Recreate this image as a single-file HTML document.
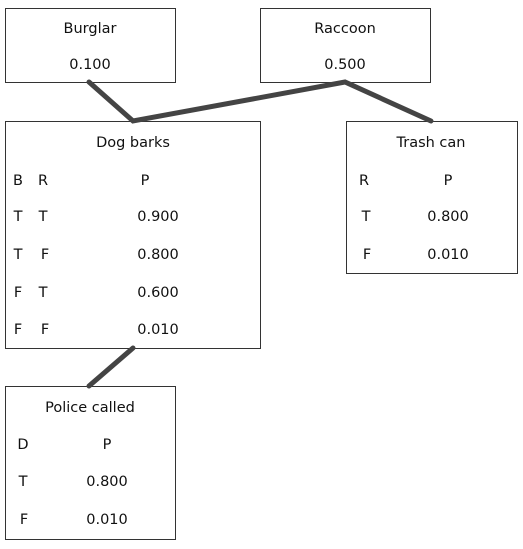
<!DOCTYPE html>
<html><head><style>
body{margin:0;background:#fff;}
svg text{font-family:"DejaVu Sans","Liberation Sans",sans-serif;font-size:14.5px;fill:#111;dominant-baseline:central;}
</style></head><body>
<svg width="523" height="544" xmlns="http://www.w3.org/2000/svg">
<g fill="#fff" stroke="#333" stroke-width="1">
<rect x="5.5" y="8.5" width="170" height="74"/>
<rect x="260.5" y="8.5" width="170" height="74"/>
<rect x="5.5" y="121.5" width="255" height="227"/>
<rect x="346.5" y="121.5" width="171" height="152"/>
<rect x="5.5" y="386.5" width="170" height="153"/>
</g>
<g stroke="#444" stroke-width="5" stroke-linecap="round" fill="none">
<polyline points="89,82 133,121 345,82 431,121"/>
<line x1="133" y1="348" x2="89" y2="386"/>
</g>
<g text-anchor="middle">
<text x="90" y="29">Burglar</text><text x="90" y="65">0.100</text>
<text x="345" y="29">Raccoon</text><text x="345" y="65">0.500</text>
<text x="133" y="143">Dog barks</text>
<text x="431" y="143">Trash can</text>
<text x="90" y="408">Police called</text>
<text x="18" y="181">B</text><text x="43" y="181">R</text><text x="145" y="181">P</text>
<text x="18" y="217">T</text><text x="43" y="217">T</text><text x="158" y="217">0.900</text>
<text x="18" y="255">T</text><text x="45" y="255">F</text><text x="158" y="255">0.800</text>
<text x="18" y="293">F</text><text x="43" y="293">T</text><text x="158" y="293">0.600</text>
<text x="18" y="330">F</text><text x="45" y="330">F</text><text x="158" y="330">0.010</text>
<text x="364" y="181">R</text><text x="448" y="181">P</text>
<text x="366" y="217">T</text><text x="448" y="217">0.800</text>
<text x="367" y="255">F</text><text x="448" y="255">0.010</text>
<text x="23" y="445">D</text><text x="107" y="445">P</text>
<text x="23" y="482">T</text><text x="107" y="482">0.800</text>
<text x="24" y="520">F</text><text x="107" y="520">0.010</text>
</g>
</svg>
</body></html>
